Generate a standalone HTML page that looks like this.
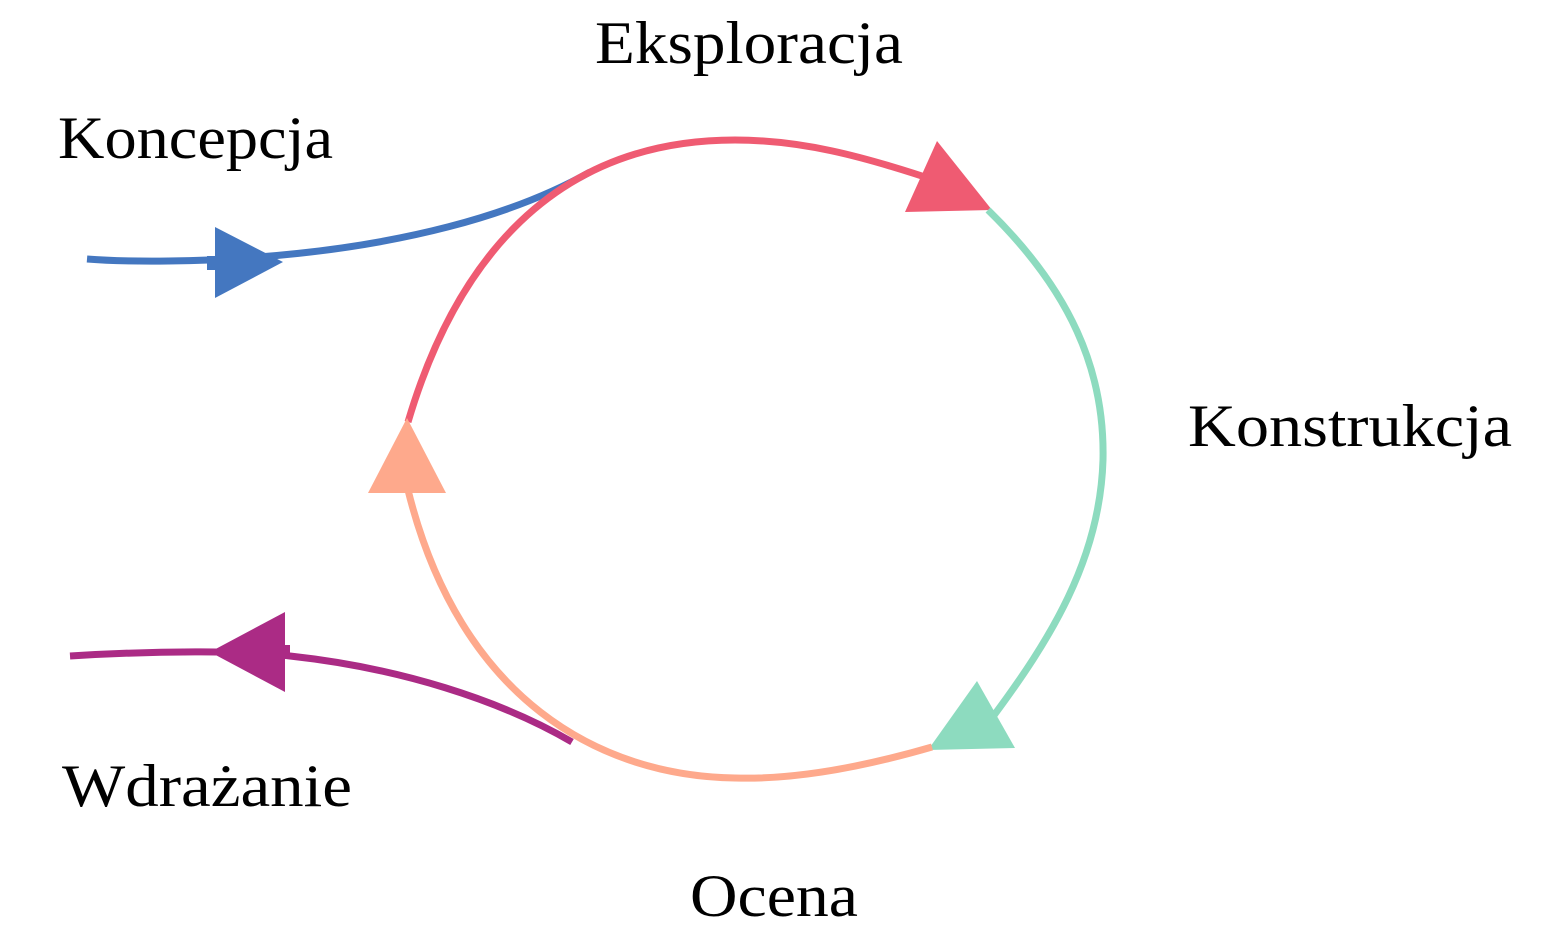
<!DOCTYPE html>
<html><head><meta charset="utf-8"><style>
html,body{margin:0;padding:0;background:#fff;}
svg{display:block;}
text{font-family:"Liberation Serif",serif;font-size:60px;fill:#000;}
</style></head><body>
<svg width="1562" height="940" viewBox="0 0 1562 940">
<path d="M87,259 C150,264 420,268 590,172" fill="none" stroke="#4477c0" stroke-width="7"/>
<rect x="207" y="256" width="10" height="14" fill="#4477c0"/>
<polygon points="215,227 215,298 283,262" fill="#4477c0"/>
<path d="M70,656 C150,651 250,650 290,656 C400,668 500,700 572,742" fill="none" stroke="#ab2b85" stroke-width="7"/>
<rect x="280" y="645" width="10" height="14" fill="#ab2b85"/>
<polygon points="285,612 285,692 210,652" fill="#ab2b85"/>
<path d="M408,422 C450,280 540,140 735,140 C800,140 860,155 940,182" fill="none" stroke="#ef5b72" stroke-width="7"/>
<polygon points="937,141 905,212 992,210" fill="#ef5b72"/>
<path d="M988,210 C1070,290 1105,370 1103,460 C1100,560 1050,640 992,718" fill="none" stroke="#8ddbbf" stroke-width="7"/>
<polygon points="977,681 928,750 1015,748" fill="#8ddbbf"/>
<path d="M932,747 C870,765 800,780 735,778 C600,776 460,700 408,490" fill="none" stroke="#fea98c" stroke-width="7"/>
<polygon points="407,418 368,493 446,493" fill="#fea98c"/>
<text x="595" y="63" textLength="308" lengthAdjust="spacingAndGlyphs">Eksploracja</text>
<text x="58" y="158" textLength="275" lengthAdjust="spacingAndGlyphs">Koncepcja</text>
<text x="1188" y="446" textLength="324" lengthAdjust="spacingAndGlyphs">Konstrukcja</text>
<text x="62" y="806" textLength="290" lengthAdjust="spacingAndGlyphs">Wdrażanie</text>
<text x="690" y="916" textLength="168" lengthAdjust="spacingAndGlyphs">Ocena</text>
</svg>
</body></html>
